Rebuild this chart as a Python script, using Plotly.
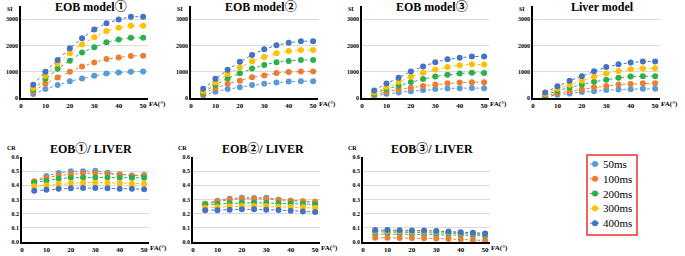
import plotly.graph_objects as go

FA = [5, 10, 15, 20, 25, 30, 35, 40, 45, 50]
series_names = ["50ms", "100ms", "200ms", "300ms", "400ms"]
series_colors = ["#5B9BD5", "#ED7D31", "#2DB04A", "#FFC000", "#4472C4"]

# Signal intensity (SI)
eob1_si = {
    "50ms":  [150, 340, 490, 640, 740, 845, 930, 970, 1000, 1010],
    "100ms": [250, 540, 780, 1000, 1200, 1350, 1480, 1540, 1600, 1610],
    "200ms": [320, 730, 1110, 1420, 1730, 1930, 2120, 2230, 2290, 2290],
    "300ms": [380, 850, 1300, 1700, 2040, 2310, 2550, 2670, 2750, 2750],
    "400ms": [504, 1000, 1450, 1890, 2270, 2610, 2840, 2990, 3090, 3090],
}
eob2_si = {
    "50ms":  [100, 240, 340, 410, 490, 540, 590, 625, 640, 640],
    "100ms": [160, 375, 540, 660, 790, 860, 950, 990, 1010, 1010],
    "200ms": [210, 500, 750, 940, 1120, 1260, 1360, 1410, 1450, 1450],
    "300ms": [260, 590, 910, 1160, 1400, 1560, 1700, 1790, 1830, 1830],
    "400ms": [350, 730, 1075, 1375, 1640, 1850, 2010, 2100, 2160, 2160],
}
eob3_si = {
    "50ms":  [90, 160, 210, 260, 300, 340, 360, 375, 385, 375],
    "100ms": [125, 240, 310, 390, 460, 510, 560, 585, 600, 600],
    "200ms": [175, 340, 470, 610, 720, 820, 880, 930, 960, 950],
    "300ms": [210, 420, 620, 810, 960, 1080, 1180, 1250, 1280, 1270],
    "400ms": [290, 550, 770, 1010, 1200, 1360, 1470, 1530, 1580, 1580],
}
liver_si = {
    "50ms":  [50, 125, 175, 225, 260, 300, 320, 335, 350, 350],
    "100ms": [75, 185, 260, 335, 410, 460, 510, 530, 560, 560],
    "200ms": [110, 270, 400, 510, 620, 690, 770, 820, 830, 830],
    "300ms": [150, 350, 500, 660, 810, 930, 1030, 1090, 1120, 1130],
    "400ms": [210, 450, 660, 830, 1020, 1180, 1280, 1350, 1390, 1390],
}

# Contrast ratio (CR)
eob1_cr = {
    "50ms":  [0.424, 0.466, 0.487, 0.499, 0.500, 0.503, 0.489, 0.478, 0.470, 0.473],
    "100ms": [0.428, 0.452, 0.470, 0.480, 0.485, 0.485, 0.480, 0.475, 0.468, 0.468],
    "200ms": [0.420, 0.433, 0.447, 0.454, 0.456, 0.456, 0.456, 0.454, 0.454, 0.454],
    "300ms": [0.393, 0.400, 0.409, 0.416, 0.419, 0.419, 0.416, 0.414, 0.412, 0.412],
    "400ms": [0.362, 0.369, 0.376, 0.379, 0.381, 0.381, 0.379, 0.376, 0.376, 0.372],
}
eob2_cr = {
    "50ms":  [0.270, 0.292, 0.306, 0.313, 0.311, 0.313, 0.299, 0.292, 0.285, 0.280],
    "100ms": [0.270, 0.287, 0.299, 0.306, 0.306, 0.304, 0.299, 0.292, 0.287, 0.285],
    "200ms": [0.264, 0.268, 0.273, 0.278, 0.278, 0.275, 0.273, 0.271, 0.268, 0.266],
    "300ms": [0.242, 0.247, 0.252, 0.254, 0.254, 0.252, 0.249, 0.247, 0.245, 0.240],
    "400ms": [0.224, 0.224, 0.228, 0.231, 0.231, 0.228, 0.226, 0.221, 0.216, 0.212],
}
eob3_cr = {
    "50ms":  [0.055, 0.056, 0.055, 0.054, 0.053, 0.052, 0.050, 0.048, 0.046, 0.042],
    "100ms": [0.030, 0.030, 0.029, 0.028, 0.027, 0.025, 0.022, 0.018, 0.014, 0.010],
    "200ms": [0.072, 0.071, 0.071, 0.069, 0.068, 0.066, 0.063, 0.060, 0.058, 0.053],
    "300ms": [0.078, 0.077, 0.076, 0.075, 0.074, 0.072, 0.069, 0.066, 0.063, 0.058],
    "400ms": [0.084, 0.085, 0.083, 0.082, 0.081, 0.078, 0.074, 0.069, 0.066, 0.060],
}

panel_titles = ["EOB model①", "EOB model②", "EOB model③", "Liver model",
                "EOB①/ LIVER", "EOB②/ LIVER", "EOB③/ LIVER"]
panel_data = [eob1_si, eob2_si, eob3_si, liver_si, eob1_cr, eob2_cr, eob3_cr]
si_ticks = [0, 1000, 2000, 3000]
cr_ticks = [0.0, 0.1, 0.2, 0.3, 0.4, 0.5, 0.6]
fa_ticks = [0, 10, 20, 30, 40, 50]

W, H = 685, 256
# pixel layout of each panel: (left, right, top, bottom)
panel_px = [
    (21, 148, 6, 98), (191, 318, 6, 98), (362, 489, 6, 98), (533, 660, 6, 98),
    (22, 149, 157, 242), (193, 320, 157, 242), (363, 490, 157, 242),
]

SERIF = "Liberation Serif, Times New Roman, Noto Sans CJK JP, serif"
fig = go.Figure()
annotations = []
layout_axes = {}

for k, (title, data, (l, r, t, b)) in enumerate(zip(panel_titles, panel_data, panel_px), start=1):
    is_si = k <= 4
    for name, color in zip(series_names, series_colors):
        fig.add_trace(go.Scatter(
            x=FA, y=data[name], xaxis=f"x{k}", yaxis=f"y{k}", mode="lines+markers",
            line=dict(color=color, width=1, dash="dot"),
            marker=dict(size=6, color=color), showlegend=False, name=name))
    xa = dict(domain=[l / W, r / W], range=[0, 52], tickvals=fa_ticks,
              showgrid=False, zeroline=False, showline=True, linecolor="black", linewidth=1.5,
              ticks="", automargin=False,
              tickfont=dict(family=SERIF, size=7, color="black", weight="bold"),
              anchor=f"y{k}")
    ya = dict(domain=[1 - b / H, 1 - t / H],
              range=[0, 3500] if is_si else [0, 0.6],
              tickvals=si_ticks if is_si else cr_ticks,
              tickformat="d" if is_si else ".1f",
              showgrid=True, gridcolor="#DADADA", gridwidth=0.8, zeroline=False,
              showline=True, linecolor="black", linewidth=1.5, ticks="", automargin=False,
              tickfont=dict(family=SERIF, size=6, color="black", weight="bold"),
              anchor=f"x{k}")
    layout_axes[f"xaxis{k}"] = xa
    layout_axes[f"yaxis{k}"] = ya
    title_y = 7 if is_si else 149
    annotations.append(dict(text=f"<b>{title}</b>", x=((l + r) / 2 + 6) / W, y=1 - title_y / H,
                            xref="paper", yref="paper", showarrow=False,
                            xanchor="center", yanchor="middle",
                            font=dict(family=SERIF, size=12, color="black")))
    annotations.append(dict(text="<b>SI</b>" if is_si else "<b>CR</b>",
                            x=(l - 11) / W, y=1 - (9 if is_si else 148) / H,
                            xref="paper", yref="paper", showarrow=False,
                            xanchor="center", yanchor="middle",
                            font=dict(family=SERIF, size=6, color="black")))
    annotations.append(dict(text="<b>FA(°)</b>", x=(r - 1) / W, y=1 - (b + 6) / H,
                            xref="paper", yref="paper", showarrow=False,
                            xanchor="left", yanchor="middle",
                            font=dict(family=SERIF, size=7, color="black")))

# legend box (manual)
lg = 8
for i, (name, color) in enumerate(zip(series_names, series_colors), start=1):
    fig.add_trace(go.Scatter(x=[3, 8, 13], y=[i, i, i], xaxis=f"x{lg}", yaxis=f"y{lg}",
                             mode="lines", line=dict(color=color, width=1, dash="dot"),
                             showlegend=False, hoverinfo="skip"))
    fig.add_trace(go.Scatter(x=[8], y=[i], xaxis=f"x{lg}", yaxis=f"y{lg}", mode="markers",
                             marker=dict(size=6, color=color), showlegend=False, hoverinfo="skip"))
    annotations.append(dict(text=name, x=14, y=i, xref=f"x{lg}", yref=f"y{lg}",
                            xanchor="left", yanchor="middle", showarrow=False,
                            font=dict(family=SERIF, size=11, color="black")))
layout_axes[f"xaxis{lg}"] = dict(domain=[587 / W, 637 / W], range=[0, 50], visible=False,
                                 anchor=f"y{lg}", fixedrange=True, automargin=False)
layout_axes[f"yaxis{lg}"] = dict(domain=[1 - 235 / H, 1 - 155 / H], range=[5.8, 0.4],
                                 visible=False, anchor=f"x{lg}", fixedrange=True, automargin=False)

fig.update_layout(
    width=W, height=H, margin=dict(l=0, r=0, t=0, b=0),
    paper_bgcolor="white", plot_bgcolor="white", showlegend=False,
    annotations=annotations,
    shapes=[dict(type="rect", xref=f"x{lg} domain", yref=f"y{lg} domain",
                 x0=0, x1=1, y0=0, y1=1, line=dict(color="#E8312F", width=1.5))],
    **layout_axes)

fig.write_html("out.html", config={"displayModeBar": False},
               post_script="document.body.style.margin='0';document.body.style.overflow='hidden';")
